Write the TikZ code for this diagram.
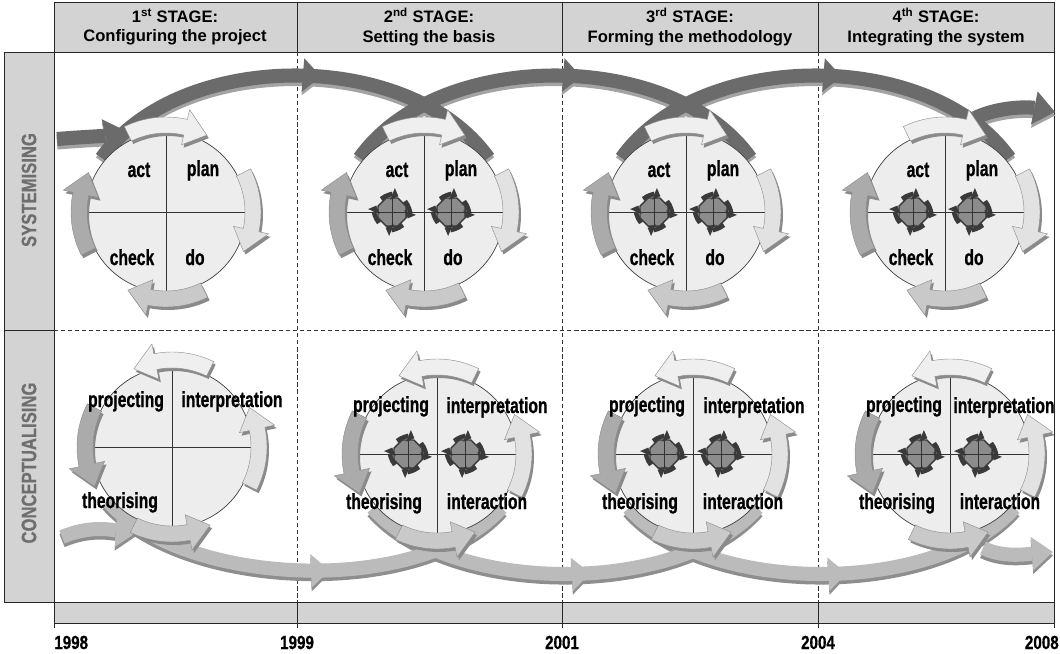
\documentclass[tikz,border=0pt]{standalone}
\usepackage{fontspec}
\setmainfont{Liberation Sans}
\newfontfamily\narrowfont[FakeStretch=0.72, BoldFeatures={FakeBold=0.8}]{Liberation Sans}
\newfontfamily\condfont[FakeStretch=0.8, BoldFeatures={FakeBold=0.6}]{Liberation Sans}
\usetikzlibrary{arrows.meta, decorations.markings, shapes.geometric}

\definecolor{panelgray}{HTML}{D3D3D3}
\definecolor{sidetext}{HTML}{6E6E6E}
\definecolor{cycfill}{HTML}{EDEDED}
\definecolor{bandsys}{HTML}{6B6B6B}
\definecolor{bandsysshade}{HTML}{A3A3A3}
\definecolor{bandcon}{HTML}{BBBBBB}
\definecolor{bandconshade}{HTML}{8E8E8E}
\definecolor{cycshade}{HTML}{8A8A8A}
\definecolor{sa1}{HTML}{EFEFEF}
\definecolor{sa2}{HTML}{E2E2E2}
\definecolor{sa3}{HTML}{C9C9C9}
\definecolor{sa4}{HTML}{ABABAB}
\definecolor{gearfill}{HTML}{8C8C8C}
\definecolor{geardark}{HTML}{3A3A3A}

\tikzset{
  frameline/.style={draw=black!85, line width=0.6pt},
  dashline/.style={draw=black!80, line width=0.5pt, dash pattern=on 3pt off 2pt},
  panel/.style={fill=panelgray, draw=black!85, line width=0.6pt},
  stagehead/.style={align=center, font=\bfseries\fontsize{11.8}{13.6}\selectfont, inner sep=0pt},
  sidelab/.style={rotate=90, text=sidetext, font=\condfont\bfseries\fontsize{14.8}{17}\selectfont, inner sep=0pt},
  yearlab/.style={font=\condfont\bfseries\fontsize{13.5}{15}\selectfont, inner sep=0pt, anchor=base},
  cyc/.style={circle, draw=black!75, fill=cycfill, line width=0.5pt, minimum size=4cm, inner sep=0pt},
  crossline/.style={draw=black!80, line width=0.5pt},
  lab/.style={font=\narrowfont\bfseries\fontsize{15.5}{17}\selectfont, inner sep=0pt, anchor=base},
  midhead/.style={postaction={decorate, decoration={markings,
      mark=at position 0.56 with {\arrow[#1]{Triangle[width=24pt, length=13pt, line width=0pt]}}}}},
  endtip/.style={-{Triangle[width=24pt, length=15pt, line width=0pt]}},
  sysband/.style={draw=bandsys, line width=10pt},
  sysbandsh/.style={draw=bandsysshade, line width=10pt, transform canvas={yshift=-2.5pt}},
  conband/.style={draw=bandcon, line width=10pt},
  conbandsh/.style={draw=bandconshade, line width=10pt, transform canvas={yshift=-2.5pt}},
  gearbody/.style={regular polygon, regular polygon sides=8, minimum size=0.76cm, inner sep=0pt,
      fill=gearfill, draw=geardark, line width=1pt},
}

% curved block arrow round a cycle: centre x, centre y, from angle, to angle, fill
\newcommand{\cyclearrow}[5]{%
  \pgfmathsetmacro{\cneck}{(#4)-15*sign((#4)-(#3))}%
  \fill[cycshade, shift={(#1+2,#2+3)}] (#3:95) arc[start angle=#3, end angle=\cneck, radius=95]
    -- (\cneck:105) -- (#4:87) -- (\cneck:69) -- (\cneck:79)
    arc[start angle=\cneck, end angle=#3, radius=79] -- cycle;
  \filldraw[draw=black!45, line width=0.3pt, fill=#5, shift={(#1,#2)}] (#3:95) arc[start angle=#3, end angle=\cneck, radius=95]
    -- (\cneck:105) -- (#4:87) -- (\cneck:69) -- (\cneck:79)
    arc[start angle=\cneck, end angle=#3, radius=79] -- cycle;
}

% small cycle inside a quadrant: name, x, y
\newcommand{\gear}[3]{%
  \node[gearbody] (#1) at (#2,#3) {};
  \foreach \ga in {-40,50,140,230}
    \draw[geardark, line width=3.2pt, -{Triangle[length=4.5pt, width=9pt, line width=0pt]}]
      ([shift={(\ga:17)}]#1.center) arc[start angle=\ga, end angle=\ga+62, radius=17];
  \draw[crossline] (#1.north) -- (#1.south) (#1.west) -- (#1.east);
}

\begin{document}
\begin{tikzpicture}[x=0.025cm, y=-0.025cm]
\useasboundingbox (0,0) rectangle (1060,653);

% panels and grid
\filldraw[panel] (54,2) rectangle (1054,52);
\filldraw[panel] (4,52) rectangle (54,602);
\filldraw[panel] (54,602) rectangle (1054,623);
\draw[frameline] (4,330) -- (54,330);
\draw[dashline] (54,330) -- (1054,330);
\foreach \x in {297,562,818}{
  \draw[frameline] (\x,2) -- (\x,52);
  \draw[dashline] (\x,52) -- (\x,602);
  \draw[frameline] (\x,602) -- (\x,628);
}
\draw[frameline] (54,52) -- (54,628);
\draw[frameline] (1054,52) -- (1054,628);

% headings
\node[stagehead] (stage1) at (175,27) {1\textsuperscript{st} STAGE:\\Configuring the project};
\node[stagehead] (stage2) at (429,27) {2\textsuperscript{nd} STAGE:\\Setting the basis};
\node[stagehead] (stage3) at (690,27) {3\textsuperscript{rd} STAGE:\\Forming the methodology};
\node[stagehead] (stage4) at (936,27) {4\textsuperscript{th} STAGE:\\Integrating the system};
\node[sidelab] (sys) at (29,190) {SYSTEMISING};
\node[sidelab] (con) at (29,463) {CONCEPTUALISING};
\node[yearlab, anchor=base west] (y1998) at (54,649) {1998};
\node[yearlab] (y1999) at (297,649) {1999};
\node[yearlab] (y2001) at (562,649) {2001};
\node[yearlab] (y2004) at (818,649) {2004};
\node[yearlab, anchor=base east] (y2008) at (1059,649) {2008};

% anchor points of the bands
\foreach \i/\cx in {1/166,2/424,3/686,4/945}{
  \coordinate (sc\i) at (\cx,212);
  \coordinate (sout\i) at ([shift={(-140:84)}]sc\i);
  \coordinate (sin\i) at ([shift={(-40:84)}]sc\i);
}
\foreach \i/\cx/\cy in {1/172/447,2/437/454,3/693/454,4/950/454}{
  \coordinate (cc\i) at (\cx,\cy);
  \coordinate (cout\i) at ([shift={(140:84)}]cc\i);
  \coordinate (cin\i) at ([shift={(40:84)}]cc\i);
}
\coordinate (sstart) at (57,139); \coordinate (sentry) at (126,131);
\coordinate (sexit) at (975,118); \coordinate (send) at (1055,112);
\coordinate (cstart) at (62,537); \coordinate (centry) at (137,532);
\coordinate (cexit) at (983,548); \coordinate (cend) at (1053,552);

% bands
\foreach \b/\c in {sysbandsh/bandsysshade, sysband/bandsys}{
  \draw[\b, endtip] (sstart) .. controls +(25,-2) and +(-22,5) .. (sentry);
  \foreach \i/\j in {1/2,2/3,3/4}
    \draw[\b, midhead=\c] (sout\i) .. controls +(78,-110) and +(-78,-110) .. (sin\j);
  \draw[\b, endtip] (sexit) .. controls +(25,-12) and +(-25,-5) .. (send);
}
\foreach \b/\c in {conbandsh/bandconshade, conband/bandcon}{
  \draw[\b, endtip] (cstart) .. controls +(28,-12) and +(-25,-2) .. (centry);
  \foreach \i/\j in {1/2,2/3,3/4}
    \draw[\b, midhead=\c] (cout\i) .. controls +(78,88) and +(-78,88) .. (cin\j);
  \draw[\b, endtip] (cexit) .. controls +(20,10) and +(-25,2) .. (cend);
}

% cycles
\foreach \i in {1,...,4}{
  \node[cyc] (s\i) at (sc\i) {};
  \draw[crossline] (s\i.north) -- (s\i.south) (s\i.west) -- (s\i.east);
  \node[cyc] (c\i) at (cc\i) {};
  \draw[crossline] (c\i.north) -- (c\i.south) (c\i.west) -- (c\i.east);
}
\foreach \cx in {166,424,686,945}{
  \cyclearrow{\cx}{212}{-116}{-62}{sa1}
  \cyclearrow{\cx}{212}{-27}{27}{sa2}
  \cyclearrow{\cx}{212}{64}{116}{sa3}
  \cyclearrow{\cx}{212}{153}{207}{sa4}
}
\foreach \cx/\cy in {172/447,437/454,693/454,950/454}{
  \cyclearrow{\cx}{\cy}{-64}{-116}{sa1}
  \cyclearrow{\cx}{\cy}{27}{-27}{sa2}
  \cyclearrow{\cx}{\cy}{116}{64}{sa3}
  \cyclearrow{\cx}{\cy}{207}{153}{sa4}
}
\foreach \i/\cx in {2/424,3/686,4/945}{
  \gear{sgl\i}{\cx-32}{212}
  \gear{sgr\i}{\cx+27}{212}
}
\foreach \i/\cx in {2/437,3/693,4/950}{
  \gear{cgl\i}{\cx-29}{454}
  \gear{cgr\i}{\cx+28}{454}
}

% quadrant labels
\foreach \i/\cx in {1/166,2/424,3/686,4/945}{
  \node[lab] (act\i) at (\cx-27,177) {act};
  \node[lab] (plan\i) at (\cx+37,176) {plan};
  \node[lab] (check\i) at (\cx-34,265) {check};
  \node[lab] (do\i) at (\cx+29,265) {do};
}
\node[lab] (proj1) at (126,407) {projecting};
\node[lab] (interp1) at (232,407) {interpretation};
\node[lab] (theo1) at (120,508) {theorising};
\foreach \i/\cx/\ix in {2/437/60,3/693/61,4/950/54}{
  \node[lab] (proj\i) at (\cx-46,412) {projecting};
  \node[lab] (interp\i) at (\cx+\ix,413) {interpretation};
  \node[lab] (theo\i) at (\cx-53,509) {theorising};
  \node[lab] (inter\i) at (\cx+50,509) {interaction};
}
\end{tikzpicture}
\end{document}
